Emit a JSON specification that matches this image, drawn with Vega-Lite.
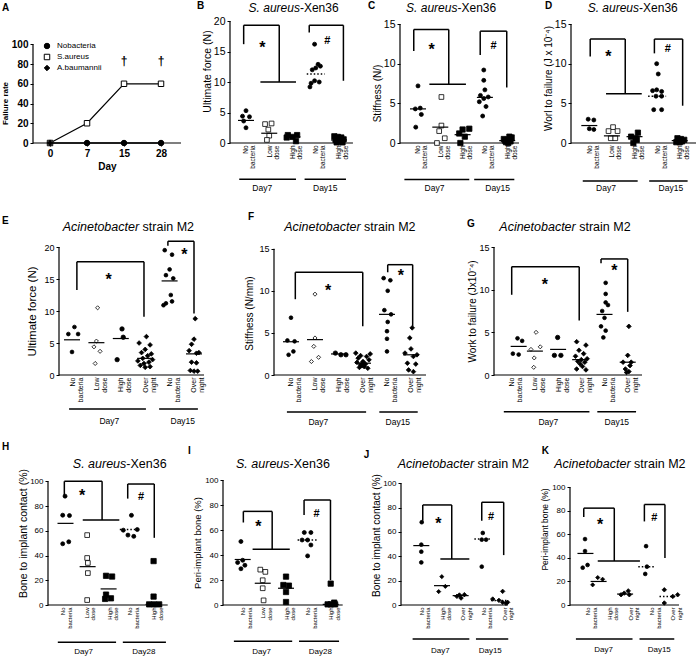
{
"padding":{"left":1,"top":0,"right":0,"bottom":0},
"spacing":18,
"resolve":{"scale":{"shape":"independent","fill":"independent","size":"independent","stroke":"independent"},"legend":{"shape":"independent","fill":"independent","stroke":"independent"}},
"config":{"font":"Liberation Sans","view":{"stroke":null},"mark":{"color":"black"},
"legend":{"labelColor":"black","labelFont":"Liberation Sans"},
"axis":{"domainColor":"black","tickColor":"black","labelColor":"black","titleColor":"black","grid":false,"domain":false,"tickWidth":1,"titleFontWeight":"normal","labelFont":"Liberation Sans","titleFont":"Liberation Sans"},
"axisX":{"labelAngle":-90,"labelAlign":"right","labelBaseline":"middle","ticks":false,"labelPadding":2,"labelOverlap":false,"labelFlush":false,"labelFontSize":6.5,"labelLineHeight":7,"title":null},
"axisY":{"tickSize":3,"labelPadding":2,"titlePadding":2,"labelFlush":false,"labelOverlap":false}},
"vconcat":[
{"hconcat":[
  {"width":187,"height":122,
   "data":{"values":[{"s":"Nobacteria","x":1,"y":0},{"s":"Nobacteria","x":2,"y":0},{"s":"Nobacteria","x":3,"y":0},{"s":"Nobacteria","x":4,"y":0},{"s":"S.aureus","x":1,"y":0},{"s":"S.aureus","x":2,"y":20},{"s":"S.aureus","x":3,"y":60},{"s":"S.aureus","x":4,"y":60},{"s":"A.baumannii","x":1,"y":0},{"s":"A.baumannii","x":2,"y":0},{"s":"A.baumannii","x":3,"y":0},{"s":"A.baumannii","x":4,"y":0}]},
   "encoding":{
    "x":{"field":"x","type":"quantitative","scale":{"domain":[0.54,5.594],"nice":false,"zero":false},"axis":{"values":[1,2,3,4],"labelExpr":"datum.value == 1 ? '0' : datum.value == 2 ? '7' : datum.value == 3 ? '15' : '28'","labelAngle":0,"labelAlign":"center","labelBaseline":"top","ticks":true,"tickSize":3,"labelPadding":2,"labelFontSize":10,"labelFontWeight":"bold","title":"Day","titleFontSize":10,"titleFontWeight":"bold","titlePadding":3,"titleX":74}},
    "y":{"field":"y","type":"quantitative","scale":{"domain":[0,123.6],"nice":false},"axis":{"values":[0,20,40,60,80,100],"labelFontSize":10,"labelFontWeight":"bold","title":"Failure rate","titleFontSize":8,"titleFontWeight":"bold","titlePadding":2,"titleY":82}}},
   "layer":[
    {"data":{"values":[{"x":0.54,"x2":0.54,"y":0,"y2":100},{"x":0.54,"x2":4.54,"y":0,"y2":0}]},"mark":{"type":"rule","strokeWidth":1.2},"encoding":{"x2":{"field":"x2"},"y2":{"field":"y2"}}},
    {"mark":{"type":"line","color":"black","strokeWidth":1.2},"encoding":{"detail":{"field":"s","type":"nominal"}}},
    {"mark":{"type":"point","strokeWidth":1,"opacity":1,"size":30},"encoding":{
      "shape":{"field":"s","type":"nominal","title":"\u00a0","scale":{"domain":["Nobacteria","S.aureus","A.baumannii"],"range":["circle","square","diamond"]},"legend":{"orient":"top-left","offset":10,"title":"\u00a0","titleFontSize":8,"titlePadding":3,"labelFontSize":8,"symbolStrokeWidth":1,"symbolSize":30,"rowPadding":1,"labelOffset":6}},
      "fill":{"field":"s","type":"nominal","title":"\u00a0","scale":{"domain":["Nobacteria","S.aureus","A.baumannii"],"range":["black","white","black"]},"legend":{"orient":"top-left","offset":10,"title":"\u00a0","titleFontSize":8,"titlePadding":3,"labelFontSize":8,"symbolStrokeWidth":1,"symbolSize":30,"rowPadding":1,"labelOffset":6}},
      "stroke":{"field":"s","type":"nominal","title":"\u00a0","scale":{"domain":["Nobacteria","S.aureus","A.baumannii"],"range":["black","black","black"]},"legend":{"orient":"top-left","offset":10,"title":"\u00a0","titleFontSize":8,"titlePadding":3,"labelFontSize":8,"symbolStrokeWidth":1,"symbolSize":30,"rowPadding":1,"labelOffset":6}}}},
    {"data":{"values":[{"x":3,"y":83},{"x":4,"y":83}]},"mark":{"type":"text","fontSize":12,"fontWeight":"bold","fill":"black"},"encoding":{"text":{"value":"†"}}},
    {"data":{"values":[{"x":-0.297,"y":137.1,"t":"A"}]},"mark":{"type":"text","fontSize":10,"fontWeight":"bold","align":"left"},"encoding":{"text":{"field":"t"}}}
   ]},
 {"width":160,"height":122,
  "encoding":{
   "x":{"field":"x","type":"quantitative","scale":{"domain":[0.312,7.194],"nice":false,"zero":false},"axis":{"values":[1,2,3,4,5],"labelExpr":"datum.value < 1.5 ? ['No','bacteria'] : datum.value < 2.5 ? ['Low','dose'] : datum.value < 3.5 ? ['High','dose'] : datum.value < 4.5 ? ['No','bacteria'] : ['High','dose']"}},
   "y":{"field":"y","type":"quantitative","scale":{"domain":[0,20],"nice":false},"axis":{"values":[0,5,10,15,20],"labelFontSize":10.5,"title":"Ultimate force (N)","titleFontSize":10.5,"titlePadding":1,"titleY":50}}},
  "layer":[
   {"data":{"values":[{"x":0.312,"x2":0.312,"y":0,"y2":20},{"x":0.312,"x2":5.6,"y":0,"y2":0}]},"mark":{"type":"rule","strokeWidth":1.2},"encoding":{"x2":{"field":"x2"},"y2":{"field":"y2"}}},
   {"data":{"values":[{"g":"No bacteria","x":1.0,"y":5.3},{"g":"No bacteria","x":0.85,"y":4.4},{"g":"No bacteria","x":1.15,"y":4.3},{"g":"No bacteria","x":0.9,"y":3.6},{"g":"No bacteria","x":1.0,"y":2.5},
     {"g":"Low dose","x":1.82,"y":3.1},{"g":"Low dose","x":2.1,"y":3.2},{"g":"Low dose","x":1.96,"y":2.2},{"g":"Low dose","x":2.0,"y":1.2},{"g":"Low dose","x":1.9,"y":0.5},
     {"g":"High dose","x":2.8,"y":1.3},{"g":"High dose","x":3.2,"y":1.3},{"g":"High dose","x":3.0,"y":1.0},{"g":"High dose","x":2.75,"y":0.9},{"g":"High dose","x":3.15,"y":0.3},
     {"g":"No bacteria","x":3.95,"y":16.2},{"g":"No bacteria","x":4.1,"y":12.9},{"g":"No bacteria","x":4.2,"y":12.6},{"g":"No bacteria","x":4.0,"y":12.3},{"g":"No bacteria","x":3.85,"y":12.0},{"g":"No bacteria","x":3.95,"y":10.2},{"g":"No bacteria","x":4.15,"y":10.0},{"g":"No bacteria","x":3.8,"y":9.8},{"g":"No bacteria","x":3.75,"y":9.2},
     {"g":"High dose","x":4.8,"y":1.1},{"g":"High dose","x":4.95,"y":1.0},{"g":"High dose","x":5.1,"y":0.9},{"g":"High dose","x":5.2,"y":0.6},{"g":"High dose","x":4.85,"y":0.5},{"g":"High dose","x":5.05,"y":0.3},{"g":"High dose","x":4.9,"y":0.1},{"g":"High dose","x":5.15,"y":0.1}]},
    "mark":{"type":"point","stroke":"black","strokeWidth":0.8,"opacity":1},
    "encoding":{"shape":{"field":"g","type":"nominal","scale":{"domain":["No bacteria","Low dose","High dose"],"range":["circle","square","square"]},"legend":null},
     "fill":{"field":"g","type":"nominal","scale":{"domain":["No bacteria","Low dose","High dose"],"range":["black","white","black"]},"legend":null},
     "size":{"field":"g","type":"ordinal","scale":{"domain":["No bacteria","Low dose","High dose"],"range":[16,28,28]},"legend":null}}},
   {"data":{"values":[{"x":1,"y":3.7},{"x":2,"y":1.6},{"x":3,"y":1.0},{"x":5,"y":0.5}]},"mark":{"type":"rule","xOffset":-8,"x2Offset":8,"strokeWidth":1.2},"encoding":{"x2":{"field":"x"}}},
   {"data":{"values":[{"x":4,"y":11.3}]},"mark":{"type":"rule","xOffset":-9,"x2Offset":9,"strokeWidth":1.5,"strokeDash":[1.5,2]},"encoding":{"x2":{"field":"x"}}},
   {"data":{"values":[{"x":0.9,"x2":2.43,"y":19.3,"y2":19.3},{"x":0.9,"x2":0.9,"y":19.3,"y2":16.2},{"x":2.43,"x2":2.43,"y":19.3,"y2":10.0},{"x":1.62,"x2":3.15,"y":10,"y2":10},{"x":3.72,"x2":5.19,"y":19.3,"y2":19.3},{"x":3.72,"x2":3.72,"y":19.3,"y2":18.1},{"x":5.19,"x2":5.19,"y":19.3,"y2":10.2},{"x":0.71,"x2":3.15,"y":-5.95,"y2":-5.95},{"x":3.52,"x2":5.3,"y":-5.95,"y2":-5.95}]},"mark":{"type":"rule","strokeWidth":1.5},"encoding":{"x2":{"field":"x2"},"y2":{"field":"y2"}}},
   {"data":{"values":[{"x":1.7,"y":16.2}]},"mark":{"type":"text","fontSize":16,"fontWeight":"bold","dy":4},"encoding":{"text":{"value":"*"}}},
   {"data":{"values":[{"x":4.5,"y":16.7}]},"mark":{"type":"text","fontSize":11,"fontWeight":"bold"},"encoding":{"text":{"value":"#"}}},
   {"data":{"values":[{"x":1.7,"y":-7.4,"t":"Day7"},{"x":4.41,"y":-7.4,"t":"Day15"}]},"mark":{"type":"text","fontSize":8.5},"encoding":{"text":{"field":"t"}}},
   {"data":{"values":[{"x":3.32,"y":21.5,"a":"S. aureus","b":"-Xen36"}]},"mark":{"type":"text","fontSize":12,"fontStyle":"italic","align":"right","baseline":"alphabetic"},"encoding":{"text":{"field":"a"}}},
   {"data":{"values":[{"x":3.32,"y":21.5,"a":"S. aureus","b":"-Xen36"}]},"mark":{"type":"text","fontSize":12,"align":"left","baseline":"alphabetic"},"encoding":{"text":{"field":"b"}}},
   {"data":{"values":[{"x":-1.11,"y":22.46,"t":"B"}]},"mark":{"type":"text","fontSize":10,"fontWeight":"bold","align":"left"},"encoding":{"text":{"field":"t"}}}
  ]},
  {"width":161,"height":122,
  "encoding":{
   "x":{"field":"x","type":"quantitative","scale":{"domain":[0.193,7.413],"nice":false,"zero":false},"axis":{"values":[1,2,3,4,5],"labelExpr":"datum.value < 1.5 ? ['No','bacteria'] : datum.value < 2.5 ? ['Low','dose'] : datum.value < 3.5 ? ['High','dose'] : datum.value < 4.5 ? ['No','bacteria'] : ['High','dose']"}},
   "y":{"field":"y","type":"quantitative","scale":{"domain":[0,15.38],"nice":false},"axis":{"values":[0,5,10,15],"labelFontSize":10.5,"title":"Stiffness (N/)","titleFontSize":10,"titlePadding":1,"titleY":72}}},
  "layer":[
   {"data":{"values":[{"x":0.193,"x2":0.193,"y":0,"y2":15},{"x":0.193,"x2":5.53,"y":0,"y2":0}]},"mark":{"type":"rule","strokeWidth":1.2},"encoding":{"x2":{"field":"x2"},"y2":{"field":"y2"}}},
   {"data":{"values":[{"g":"No bacteria","x":1.0,"y":7.2},{"g":"No bacteria","x":1.1,"y":4.4},{"g":"No bacteria","x":0.88,"y":4.3},{"g":"No bacteria","x":1.15,"y":3.6},{"g":"No bacteria","x":0.9,"y":2.0},
     {"g":"Low dose","x":2.05,"y":5.8},{"g":"Low dose","x":2.05,"y":2.2},{"g":"Low dose","x":1.95,"y":1.5},{"g":"Low dose","x":2.2,"y":0.6},{"g":"Low dose","x":1.85,"y":0.0},
     {"g":"High dose","x":3.0,"y":1.7},{"g":"High dose","x":3.3,"y":1.8},{"g":"High dose","x":2.85,"y":1.2},{"g":"High dose","x":3.1,"y":0.8},{"g":"High dose","x":2.9,"y":0.0},
     {"g":"No bacteria","x":3.95,"y":9.2},{"g":"No bacteria","x":3.95,"y":7.9},{"g":"No bacteria","x":4.0,"y":6.7},{"g":"No bacteria","x":3.8,"y":6.0},{"g":"No bacteria","x":4.15,"y":5.8},{"g":"No bacteria","x":3.95,"y":5.6},{"g":"No bacteria","x":3.75,"y":5.2},{"g":"No bacteria","x":4.05,"y":4.6},{"g":"No bacteria","x":3.9,"y":3.4},
     {"g":"High dose","x":5.1,"y":0.8},{"g":"High dose","x":5.2,"y":0.7},{"g":"High dose","x":4.85,"y":0.5},{"g":"High dose","x":5.0,"y":0.4},{"g":"High dose","x":4.9,"y":0.3},{"g":"High dose","x":5.15,"y":0.2},{"g":"High dose","x":4.95,"y":0.1},{"g":"High dose","x":5.05,"y":0.0}]},
    "mark":{"type":"point","stroke":"black","strokeWidth":0.8,"opacity":1},
    "encoding":{"shape":{"field":"g","type":"nominal","scale":{"domain":["No bacteria","Low dose","High dose"],"range":["circle","square","square"]},"legend":null},
     "fill":{"field":"g","type":"nominal","scale":{"domain":["No bacteria","Low dose","High dose"],"range":["black","white","black"]},"legend":null},
     "size":{"field":"g","type":"ordinal","scale":{"domain":["No bacteria","Low dose","High dose"],"range":[16,28,28]},"legend":null}}},
   {"data":{"values":[{"x":1,"y":4.3},{"x":2,"y":2.0},{"x":3,"y":1.05},{"x":4,"y":5.75},{"x":5,"y":0.3}]},"mark":{"type":"rule","xOffset":-8,"x2Offset":8,"strokeWidth":1.2},"encoding":{"x2":{"field":"x"}}},
   {"data":{"values":[{"x":0.81,"x2":2.38,"y":14.3,"y2":14.3},{"x":0.81,"x2":0.81,"y":14.3,"y2":11.6},{"x":2.38,"x2":2.38,"y":14.3,"y2":7.4},{"x":1.51,"x2":3.15,"y":7.4,"y2":7.4},{"x":3.79,"x2":4.98,"y":14.1,"y2":14.1},{"x":3.79,"x2":3.79,"y":14.1,"y2":11.1},{"x":4.98,"x2":4.98,"y":14.1,"y2":7.0},{"x":0.39,"x2":3.3,"y":-4.6,"y2":-4.6},{"x":3.52,"x2":5.32,"y":-4.6,"y2":-4.6}]},"mark":{"type":"rule","strokeWidth":1.5},"encoding":{"x2":{"field":"x2"},"y2":{"field":"y2"}}},
   {"data":{"values":[{"x":1.61,"y":12.2}]},"mark":{"type":"text","fontSize":16,"fontWeight":"bold","dy":4},"encoding":{"text":{"value":"*"}}},
   {"data":{"values":[{"x":4.39,"y":12.2}]},"mark":{"type":"text","fontSize":11,"fontWeight":"bold"},"encoding":{"text":{"value":"#"}}},
   {"data":{"values":[{"x":1.74,"y":-5.7,"t":"Day7"},{"x":4.57,"y":-5.7,"t":"Day15"}]},"mark":{"type":"text","fontSize":8.5},"encoding":{"text":{"field":"t"}}},
   {"data":{"values":[{"x":2.77,"y":16.5,"a":"S. aureus","b":"-Xen36"}]},"mark":{"type":"text","fontSize":12,"fontStyle":"italic","align":"right","baseline":"alphabetic"},"encoding":{"text":{"field":"a"}}},
   {"data":{"values":[{"x":2.77,"y":16.5,"a":"S. aureus","b":"-Xen36"}]},"mark":{"type":"text","fontSize":12,"align":"left","baseline":"alphabetic"},"encoding":{"text":{"field":"b"}}},
   {"data":{"values":[{"x":-1.24,"y":17.28,"t":"C"}]},"mark":{"type":"text","fontSize":10,"fontWeight":"bold","align":"left"},"encoding":{"text":{"field":"t"}}}
  ]},
  {"width":126,"height":122,
  "encoding":{
   "x":{"field":"x","type":"quantitative","scale":{"domain":[0.19,5.765],"nice":false,"zero":false},"axis":{"values":[1,2,3,4,5],"labelExpr":"datum.value < 1.5 ? ['No','bacteria'] : datum.value < 2.5 ? ['Low','dose'] : datum.value < 3.5 ? ['High','dose'] : datum.value < 4.5 ? ['No','bacteria'] : ['High','dose']"}},
   "y":{"field":"y","type":"quantitative","scale":{"domain":[0,15.38],"nice":false},"axis":{"values":[0,5,10,15],"labelFontSize":10.5,"title":"Worl to failure (J x 10⁻⁴)","titleFontSize":10,"titlePadding":1,"titleY":57}}},
  "layer":[
   {"data":{"values":[{"x":0.19,"x2":0.19,"y":0,"y2":15},{"x":0.19,"x2":5.765,"y":0,"y2":0}]},"mark":{"type":"rule","strokeWidth":1.2},"encoding":{"x2":{"field":"x2"},"y2":{"field":"y2"}}},
   {"data":{"values":[{"g":"No bacteria","x":0.95,"y":3.0},{"g":"No bacteria","x":1.2,"y":2.9},{"g":"No bacteria","x":1.0,"y":1.8},{"g":"No bacteria","x":1.2,"y":1.7},
     {"g":"Low dose","x":2.05,"y":2.0},{"g":"Low dose","x":1.85,"y":1.5},{"g":"Low dose","x":2.25,"y":1.5},{"g":"Low dose","x":1.95,"y":0.6},{"g":"Low dose","x":2.15,"y":0.6},
     {"g":"High dose","x":3.15,"y":1.3},{"g":"High dose","x":2.85,"y":0.8},{"g":"High dose","x":3.05,"y":0.6},{"g":"High dose","x":3.1,"y":0.4},{"g":"High dose","x":2.95,"y":0.0},
     {"g":"No bacteria","x":3.98,"y":10.0},{"g":"No bacteria","x":4.05,"y":8.7},{"g":"No bacteria","x":3.98,"y":6.7},{"g":"No bacteria","x":3.8,"y":6.6},{"g":"No bacteria","x":4.2,"y":6.5},{"g":"No bacteria","x":3.95,"y":5.9},{"g":"No bacteria","x":4.2,"y":5.9},{"g":"No bacteria","x":3.85,"y":4.2},{"g":"No bacteria","x":4.2,"y":4.2},
     {"g":"High dose","x":4.9,"y":0.6},{"g":"High dose","x":5.05,"y":0.5},{"g":"High dose","x":5.2,"y":0.4},{"g":"High dose","x":4.95,"y":0.3},{"g":"High dose","x":5.1,"y":0.2},{"g":"High dose","x":5.0,"y":0.1},{"g":"High dose","x":4.85,"y":0.1}]},
    "mark":{"type":"point","stroke":"black","strokeWidth":0.8,"opacity":1},
    "encoding":{"shape":{"field":"g","type":"nominal","scale":{"domain":["No bacteria","Low dose","High dose"],"range":["circle","square","square"]},"legend":null},
     "fill":{"field":"g","type":"nominal","scale":{"domain":["No bacteria","Low dose","High dose"],"range":["black","white","black"]},"legend":null},
     "size":{"field":"g","type":"ordinal","scale":{"domain":["No bacteria","Low dose","High dose"],"range":[16,28,28]},"legend":null}}},
   {"data":{"values":[{"x":1,"y":2.2},{"x":2,"y":0.9},{"x":3,"y":0.8},{"x":5,"y":0.3}]},"mark":{"type":"rule","xOffset":-8,"x2Offset":8,"strokeWidth":1.2},"encoding":{"x2":{"field":"x"}}},
   {"data":{"values":[{"x":4,"y":5.9}]},"mark":{"type":"rule","xOffset":-9,"x2Offset":9,"strokeWidth":1.5,"strokeDash":[1.5,2]},"encoding":{"x2":{"field":"x"}}},
   {"data":{"values":[{"x":1.04,"x2":2.59,"y":13.1,"y2":13.1},{"x":1.04,"x2":1.04,"y":13.1,"y2":10.9},{"x":2.59,"x2":2.59,"y":13.1,"y2":6.2},{"x":1.74,"x2":3.32,"y":6.2,"y2":6.2},{"x":3.88,"x2":5.13,"y":13.1,"y2":13.1},{"x":3.88,"x2":3.88,"y":13.1,"y2":11.3},{"x":5.13,"x2":5.13,"y":13.1,"y2":4.7},{"x":0.71,"x2":3.14,"y":-4.8,"y2":-4.8},{"x":3.65,"x2":5.35,"y":-4.8,"y2":-4.8}]},"mark":{"type":"rule","strokeWidth":1.5},"encoding":{"x2":{"field":"x2"},"y2":{"field":"y2"}}},
   {"data":{"values":[{"x":1.84,"y":11.3}]},"mark":{"type":"text","fontSize":16,"fontWeight":"bold","dy":4},"encoding":{"text":{"value":"*"}}},
   {"data":{"values":[{"x":4.47,"y":11.8}]},"mark":{"type":"text","fontSize":11,"fontWeight":"bold"},"encoding":{"text":{"value":"#"}}},
   {"data":{"values":[{"x":1.74,"y":-5.7,"t":"Day7"},{"x":4.61,"y":-5.7,"t":"Day15"}]},"mark":{"type":"text","fontSize":8.5},"encoding":{"text":{"field":"t"}}},
   {"data":{"values":[{"x":3.2,"y":16.5,"a":"S. aureus","b":"-Xen36"}]},"mark":{"type":"text","fontSize":12,"fontStyle":"italic","align":"right","baseline":"alphabetic"},"encoding":{"text":{"field":"a"}}},
   {"data":{"values":[{"x":3.2,"y":16.5,"a":"S. aureus","b":"-Xen36"}]},"mark":{"type":"text","fontSize":12,"align":"left","baseline":"alphabetic"},"encoding":{"text":{"field":"b"}}},
   {"data":{"values":[{"x":-0.96,"y":17.28,"t":"D"}]},"mark":{"type":"text","fontSize":10,"fontWeight":"bold","align":"left"},"encoding":{"text":{"field":"t"}}}
  ]}
],"spacing":10,"bounds":"flush","resolve":{"scale":{"shape":"independent","fill":"independent","size":"independent","stroke":"independent"},"legend":{"shape":"independent","fill":"independent","stroke":"independent"}}},
{"vconcat":[
 {"hconcat":[{"width":16,"height":1,"data":{"values":[]},"mark":"point"},
   {"width":205,"height":128,
    "encoding":{
     "x":{"field":"x","type":"quantitative","scale":{"domain":[0.467,8.869],"nice":false,"zero":false},"axis":{"values":[1,2,3,4,5,6],"labelFontSize":7,"labelLineHeight":8,"labelExpr":"datum.value < 1.5 ? ['No','bacteria'] : datum.value < 2.5 ? ['Low','dose'] : datum.value < 3.5 ? ['High','dose'] : datum.value < 4.5 ? ['Over','night'] : datum.value < 5.5 ? ['No','bacteria'] : ['Over','night']"}},
     "y":{"field":"y","type":"quantitative","scale":{"domain":[0,20],"nice":false},"axis":{"values":[0,5,10,15,20],"labelFontSize":9,"title":"Ultimate force (N)","titleFontSize":11.5,"titlePadding":6}}},
    "layer":[
     {"data":{"values":[{"x":0.467,"x2":0.467,"y":0,"y2":20},{"x":0.467,"x2":6.41,"y":0,"y2":0}]},"mark":{"type":"rule","strokeWidth":1.2},"encoding":{"x2":{"field":"x2"},"y2":{"field":"y2"}}},
     {"data":{"values":[{"g":"No bacteria","x":1.1,"y":7.5},{"g":"No bacteria","x":0.85,"y":6.4},{"g":"No bacteria","x":1.25,"y":6.4},{"g":"No bacteria","x":1.0,"y":3.6},
       {"g":"Low dose","x":2.05,"y":10.5},{"g":"Low dose","x":2.0,"y":5.3},{"g":"Low dose","x":1.9,"y":4.4},{"g":"Low dose","x":2.15,"y":3.7},{"g":"Low dose","x":1.95,"y":1.8},
       {"g":"High dose","x":3.05,"y":7.2},{"g":"High dose","x":3.1,"y":5.9},{"g":"High dose","x":2.85,"y":2.4},
       {"g":"Over night","x":4.05,"y":6.0},{"g":"Over night","x":3.75,"y":5.0},{"g":"Over night","x":4.2,"y":4.7},{"g":"Over night","x":4.0,"y":4.0},{"g":"Over night","x":3.85,"y":3.5},{"g":"Over night","x":4.25,"y":3.3},{"g":"Over night","x":4.1,"y":3.0},{"g":"Over night","x":3.9,"y":2.6},{"g":"Over night","x":4.3,"y":2.4},{"g":"Over night","x":3.7,"y":2.2},{"g":"Over night","x":4.15,"y":2.0},{"g":"Over night","x":3.95,"y":1.8},{"g":"Over night","x":3.8,"y":1.5},{"g":"Over night","x":4.2,"y":1.3},{"g":"Over night","x":4.0,"y":1.2},
       {"g":"No bacteria","x":4.8,"y":19.5},{"g":"No bacteria","x":5.1,"y":18.8},{"g":"No bacteria","x":5.0,"y":16.5},{"g":"No bacteria","x":4.85,"y":15.6},{"g":"No bacteria","x":5.15,"y":15.1},{"g":"No bacteria","x":5.05,"y":12.5},{"g":"No bacteria","x":5.1,"y":11.5},{"g":"No bacteria","x":4.85,"y":11.2},{"g":"No bacteria","x":4.75,"y":10.9},
       {"g":"Over night","x":6.05,"y":8.8},{"g":"Over night","x":6.0,"y":5.6},{"g":"Over night","x":5.9,"y":4.8},{"g":"Over night","x":5.8,"y":3.8},{"g":"Over night","x":6.2,"y":3.5},{"g":"Over night","x":6.1,"y":3.4},{"g":"Over night","x":5.9,"y":2.0},{"g":"Over night","x":6.1,"y":1.9},{"g":"Over night","x":5.85,"y":0.7},{"g":"Over night","x":6.15,"y":0.6},{"g":"Over night","x":6.0,"y":0.6}]},
      "mark":{"type":"point","stroke":"black","strokeWidth":0.8,"opacity":1},
      "encoding":{"shape":{"field":"g","type":"nominal","scale":{"domain":["No bacteria","Low dose","High dose","Over night"],"range":["circle","diamond","circle","diamond"]},"legend":null},
       "fill":{"field":"g","type":"nominal","scale":{"domain":["No bacteria","Low dose","High dose","Over night"],"range":["black","white","black","black"]},"legend":null},
       "size":{"field":"g","type":"ordinal","scale":{"domain":["No bacteria","Low dose","High dose","Over night"],"range":[14,22,14,20]},"legend":null}}},
     {"data":{"values":[{"x":1,"y":5.5},{"x":2,"y":5.05},{"x":3,"y":5.7},{"x":4,"y":2.6},{"x":5,"y":14.7},{"x":6,"y":3.3}]},"mark":{"type":"rule","xOffset":-8,"x2Offset":8,"strokeWidth":1.2},"encoding":{"x2":{"field":"x"}}},
     {"data":{"values":[{"x":1.2,"x2":3.95,"y":17.7,"y2":17.7},{"x":1.2,"x2":1.2,"y":17.7,"y2":13.3},{"x":3.95,"x2":3.95,"y":17.7,"y2":9.1},{"x":4.93,"x2":6.0,"y":20.9,"y2":20.9},{"x":4.93,"x2":4.93,"y":20.9,"y2":20.2},{"x":6.0,"x2":6.0,"y":20.9,"y2":9.6},{"x":0.88,"x2":4.03,"y":-5.3,"y2":-5.3},{"x":4.57,"x2":6.16,"y":-5.3,"y2":-5.3}]},"mark":{"type":"rule","strokeWidth":1.5},"encoding":{"x2":{"field":"x2"},"y2":{"field":"y2"}}},
     {"data":{"values":[{"x":2.5,"y":15.4},{"x":5.6,"y":19.4}]},"mark":{"type":"text","fontSize":16,"fontWeight":"bold","dy":4},"encoding":{"text":{"value":"*"}}},
     {"data":{"values":[{"x":2.53,"y":-7.2,"t":"Day7"},{"x":5.54,"y":-7.2,"t":"Day15"}]},"mark":{"type":"text","fontSize":8.5},"encoding":{"text":{"field":"t"}}},
     {"data":{"values":[{"x":3.75,"y":22.5,"a":"Acinetobacter","b":"strain M2"}]},"mark":{"type":"text","fontSize":12.5,"fontStyle":"italic","align":"right","baseline":"alphabetic"},"encoding":{"text":{"field":"a"}}},
     {"data":{"values":[{"x":3.75,"y":22.5,"a":"Acinetobacter","b":"strain M2"}]},"mark":{"type":"text","fontSize":12.5,"align":"left","baseline":"alphabetic","dx":3.5},"encoding":{"text":{"field":"b"}}},
     {"data":{"values":[{"x":-1.869,"y":24.1,"t":"E"}]},"mark":{"type":"text","fontSize":10,"fontWeight":"bold","align":"left"},"encoding":{"text":{"field":"t"}}}
    ]},
   {"width":210,"height":128,
    "encoding":{
     "x":{"field":"x","type":"quantitative","scale":{"domain":[0.292,9.042],"nice":false,"zero":false},"axis":{"values":[1,2,3,4,5,6],"labelFontSize":7,"labelLineHeight":8,"labelExpr":"datum.value < 1.5 ? ['No','bacteria'] : datum.value < 2.5 ? ['Low','dose'] : datum.value < 3.5 ? ['High','dose'] : datum.value < 4.5 ? ['Over','night'] : datum.value < 5.5 ? ['No','bacteria'] : ['Over','night']"}},
     "y":{"field":"y","type":"quantitative","scale":{"domain":[0,15.2],"nice":false},"axis":{"values":[0,5,10,15],"labelFontSize":9,"title":"Stiffness (N/mm)","titleFontSize":10,"titlePadding":4.5,"titleY":66}}},
    "layer":[
     {"data":{"values":[{"x":0.292,"x2":0.292,"y":0,"y2":15},{"x":0.292,"x2":6.625,"y":0,"y2":0}]},"mark":{"type":"rule","strokeWidth":1.2},"encoding":{"x2":{"field":"x2"},"y2":{"field":"y2"}}},
     {"data":{"values":[{"g":"No bacteria","x":1.0,"y":6.8},{"g":"No bacteria","x":0.85,"y":4.1},{"g":"No bacteria","x":1.15,"y":4.0},{"g":"No bacteria","x":1.1,"y":2.8},{"g":"No bacteria","x":0.9,"y":2.4},
       {"g":"Low dose","x":2.0,"y":9.6},{"g":"Low dose","x":2.0,"y":4.4},{"g":"Low dose","x":1.95,"y":3.4},{"g":"Low dose","x":2.15,"y":2.1},{"g":"Low dose","x":1.85,"y":1.6},
       {"g":"High dose","x":2.85,"y":2.6},{"g":"High dose","x":3.08,"y":2.4},{"g":"High dose","x":3.29,"y":2.4},
       {"g":"Over night","x":3.7,"y":2.6},{"g":"Over night","x":4.3,"y":2.5},{"g":"Over night","x":3.9,"y":2.3},{"g":"Over night","x":4.15,"y":2.2},{"g":"Over night","x":3.8,"y":2.0},{"g":"Over night","x":4.25,"y":1.8},{"g":"Over night","x":4.0,"y":1.6},{"g":"Over night","x":3.75,"y":1.5},{"g":"Over night","x":4.1,"y":1.3},{"g":"Over night","x":3.9,"y":1.2},{"g":"Over night","x":4.05,"y":1.0},{"g":"Over night","x":3.85,"y":0.9},{"g":"Over night","x":4.2,"y":0.8},{"g":"Over night","x":3.95,"y":1.1},{"g":"Over night","x":4.0,"y":1.4},
       {"g":"No bacteria","x":4.86,"y":11.5},{"g":"No bacteria","x":5.14,"y":11.25},{"g":"No bacteria","x":5.03,"y":10.0},{"g":"No bacteria","x":4.89,"y":7.7},{"g":"No bacteria","x":5.17,"y":7.2},{"g":"No bacteria","x":5.03,"y":6.3},{"g":"No bacteria","x":5.0,"y":5.2},{"g":"No bacteria","x":5.0,"y":4.3},{"g":"No bacteria","x":5.0,"y":2.8},
       {"g":"Over night","x":6.05,"y":5.6},{"g":"Over night","x":5.95,"y":4.4},{"g":"Over night","x":6.0,"y":3.1},{"g":"Over night","x":5.75,"y":2.6},{"g":"Over night","x":6.25,"y":2.4},{"g":"Over night","x":6.1,"y":2.2},{"g":"Over night","x":5.85,"y":1.4},{"g":"Over night","x":6.2,"y":1.3},{"g":"Over night","x":5.9,"y":0.6},{"g":"Over night","x":6.1,"y":0.4}]},
      "mark":{"type":"point","stroke":"black","strokeWidth":0.8,"opacity":1},
      "encoding":{"shape":{"field":"g","type":"nominal","scale":{"domain":["No bacteria","Low dose","High dose","Over night"],"range":["circle","diamond","circle","diamond"]},"legend":null},
       "fill":{"field":"g","type":"nominal","scale":{"domain":["No bacteria","Low dose","High dose","Over night"],"range":["black","white","black","black"]},"legend":null},
       "size":{"field":"g","type":"ordinal","scale":{"domain":["No bacteria","Low dose","High dose","Over night"],"range":[14,22,14,20]},"legend":null}}},
     {"data":{"values":[{"x":1,"y":3.95},{"x":2,"y":4.2},{"x":3,"y":2.5},{"x":4,"y":1.4},{"x":5,"y":7.2},{"x":6,"y":2.4}]},"mark":{"type":"rule","xOffset":-8,"x2Offset":8,"strokeWidth":1.2},"encoding":{"x2":{"field":"x"}}},
     {"data":{"values":[{"x":1.18,"x2":3.99,"y":12.2,"y2":12.2},{"x":1.18,"x2":1.18,"y":12.2,"y2":9.0},{"x":3.99,"x2":3.99,"y":12.2,"y2":5.8},{"x":5.03,"x2":6.07,"y":13.1,"y2":13.1},{"x":5.03,"x2":5.03,"y":13.1,"y2":12.2},{"x":6.07,"x2":6.07,"y":13.1,"y2":5.8},{"x":0.83,"x2":4.13,"y":-4.4,"y2":-4.4},{"x":4.68,"x2":6.28,"y":-4.4,"y2":-4.4}]},"mark":{"type":"rule","strokeWidth":1.5},"encoding":{"x2":{"field":"x2"},"y2":{"field":"y2"}}},
     {"data":{"values":[{"x":2.55,"y":10.5},{"x":5.58,"y":12.2}]},"mark":{"type":"text","fontSize":16,"fontWeight":"bold","dy":4},"encoding":{"text":{"value":"*"}}},
     {"data":{"values":[{"x":2.14,"y":-5.6,"t":"Day7"},{"x":5.45,"y":-5.6,"t":"Day15"}]},"mark":{"type":"text","fontSize":8.5},"encoding":{"text":{"field":"t"}}},
     {"data":{"values":[{"x":3.9,"y":17.1,"a":"Acinetobacter","b":"strain M2"}]},"mark":{"type":"text","fontSize":12.5,"fontStyle":"italic","align":"right","baseline":"alphabetic"},"encoding":{"text":{"field":"a"}}},
     {"data":{"values":[{"x":3.9,"y":17.1,"a":"Acinetobacter","b":"strain M2"}]},"mark":{"type":"text","fontSize":12.5,"align":"left","baseline":"alphabetic","dx":3.5},"encoding":{"text":{"field":"b"}}},
     {"data":{"values":[{"x":-0.79,"y":18.8,"t":"F"}]},"mark":{"type":"text","fontSize":10,"fontWeight":"bold","align":"left"},"encoding":{"text":{"field":"t"}}}
    ]},
   {"width":148,"height":128,
    "encoding":{
     "x":{"field":"x","type":"quantitative","scale":{"domain":[0.237,6.616],"nice":false,"zero":false},"axis":{"values":[1,2,3,4,5,6],"labelFontSize":7,"labelLineHeight":8,"labelExpr":"datum.value < 1.5 ? ['No','bacteria'] : datum.value < 2.5 ? ['Low','dose'] : datum.value < 3.5 ? ['High','dose'] : datum.value < 4.5 ? ['Over','night'] : datum.value < 5.5 ? ['No','bacteria'] : ['Over','night']"}},
     "y":{"field":"y","type":"quantitative","scale":{"domain":[0,15],"nice":false},"axis":{"values":[0,5,10,15],"labelFontSize":9,"title":"Work to failure (Jx10⁻⁴)","titleFontSize":10,"titlePadding":1}}},
    "layer":[
     {"data":{"values":[{"x":0.237,"x2":0.237,"y":0,"y2":15},{"x":0.237,"x2":6.616,"y":0,"y2":0}]},"mark":{"type":"rule","strokeWidth":1.2},"encoding":{"x2":{"field":"x2"},"y2":{"field":"y2"}}},
     {"data":{"values":[{"g":"No bacteria","x":1.25,"y":4.3},{"g":"No bacteria","x":1.45,"y":4.0},{"g":"No bacteria","x":1.05,"y":2.5},{"g":"No bacteria","x":1.3,"y":2.4},
       {"g":"Low dose","x":2.05,"y":5.0},{"g":"Low dose","x":2.23,"y":3.3},{"g":"Low dose","x":1.83,"y":3.0},{"g":"Low dose","x":1.97,"y":2.0},{"g":"Low dose","x":1.95,"y":0.9},
       {"g":"High dose","x":2.98,"y":4.4},{"g":"High dose","x":2.84,"y":2.3},{"g":"High dose","x":3.12,"y":2.3},
       {"g":"Over night","x":3.8,"y":3.9},{"g":"Over night","x":4.2,"y":3.5},{"g":"Over night","x":3.9,"y":2.9},{"g":"Over night","x":4.1,"y":2.5},{"g":"Over night","x":3.75,"y":2.2},{"g":"Over night","x":4.25,"y":1.9},{"g":"Over night","x":4.0,"y":1.8},{"g":"Over night","x":3.85,"y":1.6},{"g":"Over night","x":4.15,"y":1.5},{"g":"Over night","x":3.95,"y":1.3},{"g":"Over night","x":4.05,"y":1.0},{"g":"Over night","x":3.8,"y":0.7},{"g":"Over night","x":4.2,"y":0.6},
       {"g":"No bacteria","x":5.05,"y":10.8},{"g":"No bacteria","x":5.05,"y":9.5},{"g":"No bacteria","x":5.05,"y":8.5},{"g":"No bacteria","x":5.15,"y":8.2},{"g":"No bacteria","x":4.9,"y":7.5},{"g":"No bacteria","x":5.0,"y":6.7},{"g":"No bacteria","x":4.85,"y":5.7},{"g":"No bacteria","x":5.05,"y":5.2},{"g":"No bacteria","x":4.95,"y":4.4},
       {"g":"Over night","x":6.05,"y":5.7},{"g":"Over night","x":6.0,"y":2.3},{"g":"Over night","x":5.8,"y":1.5},{"g":"Over night","x":6.15,"y":1.5},{"g":"Over night","x":6.1,"y":1.1},{"g":"Over night","x":5.9,"y":0.7},{"g":"Over night","x":6.05,"y":0.4},{"g":"Over night","x":5.95,"y":0.3}]},
      "mark":{"type":"point","stroke":"black","strokeWidth":0.8,"opacity":1},
      "encoding":{"shape":{"field":"g","type":"nominal","scale":{"domain":["No bacteria","Low dose","High dose","Over night"],"range":["circle","diamond","circle","diamond"]},"legend":null},
       "fill":{"field":"g","type":"nominal","scale":{"domain":["No bacteria","Low dose","High dose","Over night"],"range":["black","white","black","black"]},"legend":null},
       "size":{"field":"g","type":"ordinal","scale":{"domain":["No bacteria","Low dose","High dose","Over night"],"range":[14,22,14,20]},"legend":null}}},
     {"data":{"values":[{"x":1.3,"y":3.35},{"x":2,"y":2.8},{"x":3,"y":3.0},{"x":3.95,"y":1.8},{"x":5,"y":7.1},{"x":6,"y":1.5}]},"mark":{"type":"rule","xOffset":-8,"x2Offset":8,"strokeWidth":1.2},"encoding":{"x2":{"field":"x"}}},
     {"data":{"values":[{"x":1.0,"x2":3.91,"y":12.7,"y2":12.7},{"x":1.0,"x2":1.0,"y":12.7,"y2":9.4},{"x":3.91,"x2":3.91,"y":12.7,"y2":6.4},{"x":4.85,"x2":6.0,"y":13.6,"y2":13.6},{"x":4.85,"x2":4.85,"y":13.6,"y2":13.1},{"x":6.0,"x2":6.0,"y":13.6,"y2":7.4},{"x":0.66,"x2":4.35,"y":-4.3,"y2":-4.3},{"x":4.69,"x2":6.36,"y":-4.3,"y2":-4.3}]},"mark":{"type":"rule","strokeWidth":1.5},"encoding":{"x2":{"field":"x2"},"y2":{"field":"y2"}}},
     {"data":{"values":[{"x":2.43,"y":11.0},{"x":5.42,"y":12.7}]},"mark":{"type":"text","fontSize":16,"fontWeight":"bold","dy":4},"encoding":{"text":{"value":"*"}}},
     {"data":{"values":[{"x":2.58,"y":-5.5,"t":"Day7"},{"x":5.53,"y":-5.5,"t":"Day15"}]},"mark":{"type":"text","fontSize":8.5},"encoding":{"text":{"field":"t"}}},
     {"data":{"values":[{"x":3.76,"y":16.9,"a":"Acinetobacter","b":"strain M2"}]},"mark":{"type":"text","fontSize":12.5,"fontStyle":"italic","align":"right","baseline":"alphabetic"},"encoding":{"text":{"field":"a"}}},
     {"data":{"values":[{"x":3.76,"y":16.9,"a":"Acinetobacter","b":"strain M2"}]},"mark":{"type":"text","fontSize":12.5,"align":"left","baseline":"alphabetic","dx":3.5},"encoding":{"text":{"field":"b"}}},
     {"data":{"values":[{"x":-0.93,"y":17.7,"t":"G"}]},"mark":{"type":"text","fontSize":10,"fontWeight":"bold","align":"left"},"encoding":{"text":{"field":"t"}}}
    ]}
 ],"spacing":10,"bounds":"flush","resolve":{"scale":{"shape":"independent","fill":"independent","size":"independent"}}},
 {"hconcat":[{"width":5,"height":1,"data":{"values":[]},"mark":"point"},
     {"width":165,"height":125,
      "encoding":{
       "x":{"field":"x","type":"quantitative","scale":{"domain":[0.369,7.45],"nice":false,"zero":false},"axis":{"values":[1,2,3,3.88,4.9],"labelFontSize":6,"labelLineHeight":6.5,"labelExpr":"datum.value < 1.5 ? ['No','bacteria'] : datum.value < 2.5 ? ['Low','dose'] : datum.value < 3.5 ? ['High','dose'] : datum.value < 4.5 ? ['No','bacteria'] : ['High','dose']"}},
       "y":{"field":"y","type":"quantitative","scale":{"domain":[0,101.05],"nice":false},"axis":{"values":[0,20,40,60,80,100],"labelFontSize":8,"title":"Bone to implant contact (%)","titleFontSize":10.5,"titlePadding":1,"titleY":53}}},
      "layer":[
       {"data":{"values":[{"x":0.369,"x2":0.369,"y":0,"y2":100},{"x":0.369,"x2":5.506,"y":0,"y2":0}]},"mark":{"type":"rule","strokeWidth":1.2},"encoding":{"x2":{"field":"x2"},"y2":{"field":"y2"}}},
       {"data":{"values":[{"g":"No bacteria","x":1.1,"y":88},{"g":"No bacteria","x":1.0,"y":72.6},{"g":"No bacteria","x":1.29,"y":72.3},{"g":"No bacteria","x":1.0,"y":49.5},{"g":"No bacteria","x":1.26,"y":51.1},
         {"g":"Low dose","x":2.05,"y":56.5},{"g":"Low dose","x":2.05,"y":38},{"g":"Low dose","x":2.08,"y":34},{"g":"Low dose","x":2.08,"y":25.8},{"g":"Low dose","x":2.05,"y":4},
         {"g":"High dose","x":2.86,"y":23.6},{"g":"High dose","x":3.12,"y":23},{"g":"High dose","x":2.86,"y":8.4},{"g":"High dose","x":3.07,"y":5.4},{"g":"High dose","x":2.82,"y":4.9},
         {"g":"No bacteria","x":3.95,"y":72.5},{"g":"No bacteria","x":4.2,"y":61},{"g":"No bacteria","x":3.6,"y":60.5},{"g":"No bacteria","x":3.8,"y":56.5},{"g":"No bacteria","x":4.05,"y":55.5},
         {"g":"High dose","x":4.9,"y":35.5},{"g":"High dose","x":4.9,"y":6.8},{"g":"High dose","x":4.71,"y":0.5},{"g":"High dose","x":4.92,"y":0.5},{"g":"High dose","x":5.14,"y":0.5}]},
        "mark":{"type":"point","stroke":"black","strokeWidth":0.8,"opacity":1},
        "encoding":{"shape":{"field":"g","type":"nominal","scale":{"domain":["No bacteria","Low dose","High dose"],"range":["circle","square","square"]},"legend":null},
         "fill":{"field":"g","type":"nominal","scale":{"domain":["No bacteria","Low dose","High dose"],"range":["black","white","black"]},"legend":null},
         "size":{"field":"g","type":"ordinal","scale":{"domain":["No bacteria","Low dose","High dose"],"range":[16,28,28]},"legend":null}}},
       {"data":{"values":[{"x":1.12,"y":66},{"x":2.07,"y":31},{"x":2.97,"y":13},{"x":4.9,"y":0.5}]},"mark":{"type":"rule","xOffset":-8,"x2Offset":8,"strokeWidth":1.2},"encoding":{"x2":{"field":"x"}}},
       {"data":{"values":[{"x":3.88,"y":61}]},"mark":{"type":"rule","xOffset":-10,"x2Offset":10,"strokeWidth":1.5,"strokeDash":[1.5,2]},"encoding":{"x2":{"field":"x"}}},
       {"data":{"values":[{"x":1.07,"x2":2.69,"y":100,"y2":100},{"x":1.07,"x2":1.07,"y":100,"y2":88},{"x":2.69,"x2":2.69,"y":100,"y2":68.7},{"x":1.86,"x2":3.43,"y":68.7,"y2":68.7},{"x":3.79,"x2":4.93,"y":97.8,"y2":97.8},{"x":3.79,"x2":3.79,"y":97.8,"y2":86},{"x":4.93,"x2":4.93,"y":97.8,"y2":54.3},{"x":0.79,"x2":3.29,"y":-30.2,"y2":-30.2},{"x":3.58,"x2":5.43,"y":-30.2,"y2":-30.2}]},"mark":{"type":"rule","strokeWidth":1.5},"encoding":{"x2":{"field":"x2"},"y2":{"field":"y2"}}},
       {"data":{"values":[{"x":1.83,"y":91}]},"mark":{"type":"text","fontSize":16,"fontWeight":"bold","dy":4},"encoding":{"text":{"value":"*"}}},
       {"data":{"values":[{"x":4.36,"y":87}]},"mark":{"type":"text","fontSize":11,"fontWeight":"bold"},"encoding":{"text":{"value":"#"}}},
       {"data":{"values":[{"x":1.9,"y":-38.2,"t":"Day7"},{"x":4.48,"y":-38.2,"t":"Day28"}]},"mark":{"type":"text","fontSize":8},"encoding":{"text":{"field":"t"}}},
       {"data":{"values":[{"x":3.73,"y":110.5,"a":"S. aureus","b":"-Xen36"}]},"mark":{"type":"text","fontSize":12.5,"fontStyle":"italic","align":"right","baseline":"alphabetic"},"encoding":{"text":{"field":"a"}}},
       {"data":{"values":[{"x":3.73,"y":110.5,"a":"S. aureus","b":"-Xen36"}]},"mark":{"type":"text","fontSize":12.5,"align":"left","baseline":"alphabetic"},"encoding":{"text":{"field":"b"}}},
       {"data":{"values":[{"x":-1.605,"y":127.5,"t":"H"}]},"mark":{"type":"text","fontSize":10,"fontWeight":"bold","align":"left"},"encoding":{"text":{"field":"t"}}}
      ]},
    {"width":168,"height":125,
     "encoding":{
      "x":{"field":"x","type":"quantitative","scale":{"domain":[0.105,7.741],"nice":false,"zero":false},"axis":{"values":[1,1.91,2.97,3.95,5],"labelFontSize":6,"labelLineHeight":6.5,"labelExpr":"datum.value < 1.5 ? ['No','bacteria'] : datum.value < 2.5 ? ['Low','dose'] : datum.value < 3.5 ? ['High','dose'] : datum.value < 4.5 ? ['No','bacteria'] : ['High','dose']"}},
      "y":{"field":"y","type":"quantitative","scale":{"domain":[0,100],"nice":false},"axis":{"values":[0,20,40,60,80,100],"labelFontSize":8,"title":"Peri-implant bone (%)","titleFontSize":9.5,"titlePadding":2}}},
     "layer":[
      {"data":{"values":[{"x":0.105,"x2":0.105,"y":0,"y2":100},{"x":0.105,"x2":5.545,"y":0,"y2":0}]},"mark":{"type":"rule","strokeWidth":1.2},"encoding":{"x2":{"field":"x2"},"y2":{"field":"y2"}}},
      {"data":{"values":[{"g":"No bacteria","x":0.92,"y":50.8},{"g":"No bacteria","x":1.0,"y":35.8},{"g":"No bacteria","x":0.77,"y":34},{"g":"No bacteria","x":1.1,"y":31.8},{"g":"No bacteria","x":0.92,"y":29},
        {"g":"Low dose","x":1.8,"y":28.3},{"g":"Low dose","x":2.03,"y":26.5},{"g":"Low dose","x":1.91,"y":19.8},{"g":"Low dose","x":1.91,"y":13.4},{"g":"Low dose","x":1.95,"y":3.7},
        {"g":"High dose","x":2.97,"y":22.7},{"g":"High dose","x":2.85,"y":16},{"g":"High dose","x":3.1,"y":15.5},{"g":"High dose","x":2.97,"y":10.4},{"g":"High dose","x":2.97,"y":2.4},
        {"g":"No bacteria","x":3.8,"y":58},{"g":"No bacteria","x":4.1,"y":58},{"g":"No bacteria","x":3.7,"y":52},{"g":"No bacteria","x":3.95,"y":52},{"g":"No bacteria","x":4.1,"y":48},{"g":"No bacteria","x":3.95,"y":39.3},
        {"g":"High dose","x":5.0,"y":17.1},{"g":"High dose","x":5.16,"y":1.9},{"g":"High dose","x":4.86,"y":0.5},{"g":"High dose","x":5.0,"y":0.5},{"g":"High dose","x":5.2,"y":0.5}]},
       "mark":{"type":"point","stroke":"black","strokeWidth":0.8,"opacity":1},
       "encoding":{"shape":{"field":"g","type":"nominal","scale":{"domain":["No bacteria","Low dose","High dose"],"range":["circle","square","square"]},"legend":null},
        "fill":{"field":"g","type":"nominal","scale":{"domain":["No bacteria","Low dose","High dose"],"range":["black","white","black"]},"legend":null},
        "size":{"field":"g","type":"ordinal","scale":{"domain":["No bacteria","Low dose","High dose"],"range":[16,28,28]},"legend":null}}},
      {"data":{"values":[{"x":1.0,"y":36.4},{"x":1.91,"y":17.4},{"x":2.97,"y":13.4},{"x":5.0,"y":0.5}]},"mark":{"type":"rule","xOffset":-8,"x2Offset":8,"strokeWidth":1.2},"encoding":{"x2":{"field":"x"}}},
      {"data":{"values":[{"x":3.95,"y":52}]},"mark":{"type":"rule","xOffset":-10,"x2Offset":10,"strokeWidth":1.5,"strokeDash":[1.5,2]},"encoding":{"x2":{"field":"x"}}},
      {"data":{"values":[{"x":1.03,"x2":2.34,"y":74.9,"y2":74.9},{"x":1.03,"x2":1.03,"y":74.9,"y2":66},{"x":2.34,"x2":2.34,"y":74.9,"y2":44.7},{"x":1.45,"x2":3.14,"y":44.7,"y2":44.7},{"x":3.79,"x2":4.99,"y":84,"y2":84},{"x":3.79,"x2":3.79,"y":84,"y2":72},{"x":4.99,"x2":4.99,"y":84,"y2":19.8},{"x":0.6,"x2":3.25,"y":-29,"y2":-29},{"x":3.56,"x2":5.38,"y":-29,"y2":-29}]},"mark":{"type":"rule","strokeWidth":1.5},"encoding":{"x2":{"field":"x2"},"y2":{"field":"y2"}}},
      {"data":{"values":[{"x":1.71,"y":66}]},"mark":{"type":"text","fontSize":16,"fontWeight":"bold","dy":4},"encoding":{"text":{"value":"*"}}},
      {"data":{"values":[{"x":4.36,"y":73}]},"mark":{"type":"text","fontSize":11,"fontWeight":"bold"},"encoding":{"text":{"value":"#"}}},
      {"data":{"values":[{"x":1.86,"y":-37.8,"t":"Day7"},{"x":4.53,"y":-37.8,"t":"Day28"}]},"mark":{"type":"text","fontSize":8},"encoding":{"text":{"field":"t"}}},
      {"data":{"values":[{"x":3.13,"y":109.4,"a":"S. aureus","b":"-Xen36"}]},"mark":{"type":"text","fontSize":12.5,"fontStyle":"italic","align":"right","baseline":"alphabetic"},"encoding":{"text":{"field":"a"}}},
      {"data":{"values":[{"x":3.13,"y":109.4,"a":"S. aureus","b":"-Xen36"}]},"mark":{"type":"text","fontSize":12.5,"align":"left","baseline":"alphabetic"},"encoding":{"text":{"field":"b"}}},
      {"data":{"values":[{"x":-1.49,"y":123,"t":"I"}]},"mark":{"type":"text","fontSize":10,"fontWeight":"bold","align":"left"},"encoding":{"text":{"field":"t"}}}
     ]},
     {"width":159,"height":125,
      "encoding":{
       "x":{"field":"x","type":"quantitative","scale":{"domain":[0.019,7.7],"nice":false,"zero":false},"axis":{"values":[1,2,3,4,5],"labelFontSize":6,"labelLineHeight":6.5,"labelExpr":"datum.value < 1.5 ? ['No','bacteria'] : datum.value < 2.5 ? ['High','dose'] : datum.value < 3.5 ? ['Over','night'] : datum.value < 4.5 ? ['No','bacteria'] : ['Over','night']"}},
       "y":{"field":"y","type":"quantitative","scale":{"domain":[0,102.7],"nice":false},"axis":{"values":[0,20,40,60,80,100],"labelFontSize":8,"title":"Bone to implant contact (%)","titleFontSize":10,"titlePadding":1,"titleY":55}}},
      "layer":[
       {"data":{"values":[{"x":0.019,"x2":0.019,"y":0,"y2":100},{"x":0.019,"x2":5.19,"y":0,"y2":0}]},"mark":{"type":"rule","strokeWidth":1.2},"encoding":{"x2":{"field":"x2"},"y2":{"field":"y2"}}},
       {"data":{"values":[{"g":"No bacteria","x":1.02,"y":68},{"g":"No bacteria","x":1.0,"y":49.6},{"g":"No bacteria","x":1.0,"y":43.8},{"g":"No bacteria","x":1.0,"y":35},
         {"g":"High dose","x":1.99,"y":23.3},{"g":"High dose","x":2.16,"y":15.3},{"g":"High dose","x":1.84,"y":11},
         {"g":"Over night","x":2.84,"y":8.2},{"g":"Over night","x":3.08,"y":8.5},{"g":"Over night","x":2.92,"y":5.7},{"g":"Over night","x":2.72,"y":7.1},
         {"g":"No bacteria","x":3.97,"y":59.2},{"g":"No bacteria","x":3.92,"y":53.7},{"g":"No bacteria","x":4.13,"y":53.7},{"g":"No bacteria","x":3.92,"y":31.5},
         {"g":"Over night","x":4.93,"y":11.2},{"g":"Over night","x":4.45,"y":4.9},{"g":"Over night","x":4.75,"y":3.8},{"g":"Over night","x":4.93,"y":2.2},{"g":"Over night","x":5.09,"y":1.4},{"g":"Over night","x":5.17,"y":2.2}]},
        "mark":{"type":"point","stroke":"black","strokeWidth":0.8,"opacity":1},
        "encoding":{"shape":{"field":"g","type":"nominal","scale":{"domain":["No bacteria","High dose","Over night"],"range":["circle","diamond","diamond"]},"legend":null},
         "fill":{"field":"g","type":"nominal","scale":{"domain":["No bacteria","High dose","Over night"],"range":["black","black","black"]},"legend":null},
         "size":{"field":"g","type":"ordinal","scale":{"domain":["No bacteria","High dose","Over night"],"range":[14,20,20]},"legend":null}}},
       {"data":{"values":[{"x":1.0,"y":48.8},{"x":2.0,"y":15.9},{"x":2.9,"y":7.7}]},"mark":{"type":"rule","xOffset":-8,"x2Offset":8,"strokeWidth":1.2},"encoding":{"x2":{"field":"x"}}},
       {"data":{"values":[{"x":3.95,"y":54.2},{"x":4.75,"y":3.6}]},"mark":{"type":"rule","xOffset":-8,"x2Offset":8,"strokeWidth":1.5,"strokeDash":[1.5,2]},"encoding":{"x2":{"field":"x"}}},
       {"data":{"values":[{"x":1.07,"x2":2.47,"y":82.2,"y2":82.2},{"x":1.07,"x2":1.07,"y":82.2,"y2":69.3},{"x":2.47,"x2":2.47,"y":82.2,"y2":37.8},{"x":1.92,"x2":3.32,"y":37.8,"y2":37.8},{"x":3.92,"x2":4.98,"y":84.4,"y2":84.4},{"x":3.92,"x2":3.92,"y":84.4,"y2":69.3},{"x":4.98,"x2":4.98,"y":84.4,"y2":41},{"x":0.58,"x2":3.32,"y":-27.9,"y2":-27.9},{"x":3.64,"x2":5.2,"y":-27.9,"y2":-27.9}]},"mark":{"type":"rule","strokeWidth":1.5},"encoding":{"x2":{"field":"x2"},"y2":{"field":"y2"}}},
       {"data":{"values":[{"x":1.82,"y":70}]},"mark":{"type":"text","fontSize":16,"fontWeight":"bold","dy":4},"encoding":{"text":{"value":"*"}}},
       {"data":{"values":[{"x":4.37,"y":72}]},"mark":{"type":"text","fontSize":11,"fontWeight":"bold"},"encoding":{"text":{"value":"#"}}},
       {"data":{"values":[{"x":1.92,"y":-37.5,"t":"Day7"},{"x":4.33,"y":-37.5,"t":"Day15"}]},"mark":{"type":"text","fontSize":8},"encoding":{"text":{"field":"t"}}},
       {"data":{"values":[{"x":3.55,"y":112.3,"a":"Acinetobacter","b":"strain M2"}]},"mark":{"type":"text","fontSize":12.5,"fontStyle":"italic","align":"right","baseline":"alphabetic"},"encoding":{"text":{"field":"a"}}},
       {"data":{"values":[{"x":3.55,"y":112.3,"a":"Acinetobacter","b":"strain M2"}]},"mark":{"type":"text","fontSize":12.5,"align":"left","baseline":"alphabetic","dx":3.5},"encoding":{"text":{"field":"b"}}},
       {"data":{"values":[{"x":-1.78,"y":123,"t":"J"}]},"mark":{"type":"text","fontSize":10,"fontWeight":"bold","align":"left"},"encoding":{"text":{"field":"t"}}}
      ]},
     {"width":109,"height":125,
      "encoding":{
       "x":{"field":"x","type":"quantitative","scale":{"domain":[0.151,5.293],"nice":false,"zero":false},"axis":{"values":[1,2,3,4,5],"labelFontSize":6,"labelLineHeight":6.5,"labelExpr":"datum.value < 1.5 ? ['No','bacteria'] : datum.value < 2.5 ? ['High','dose'] : datum.value < 3.5 ? ['Over','night'] : datum.value < 4.5 ? ['No','bacteria'] : ['Over','night']"}},
       "y":{"field":"y","type":"quantitative","scale":{"domain":[0,106.2],"nice":false},"axis":{"values":[0,20,40,60,80,100],"labelFontSize":8,"title":"Peri-implant bone (%)","titleFontSize":8.5,"titlePadding":2,"titleY":49}}},
      "layer":[
       {"data":{"values":[{"x":0.151,"x2":0.151,"y":0,"y2":100},{"x":0.151,"x2":5.293,"y":0,"y2":0}]},"mark":{"type":"rule","strokeWidth":1.2},"encoding":{"x2":{"field":"x2"},"y2":{"field":"y2"}}},
       {"data":{"values":[{"g":"No bacteria","x":0.86,"y":56},{"g":"No bacteria","x":0.86,"y":45.8},{"g":"No bacteria","x":0.75,"y":31.7},{"g":"No bacteria","x":0.98,"y":34},
         {"g":"High dose","x":1.46,"y":23.3},{"g":"High dose","x":1.69,"y":21.9},{"g":"High dose","x":1.22,"y":17.1},
         {"g":"Over night","x":2.71,"y":10.1},{"g":"Over night","x":2.9,"y":12},{"g":"Over night","x":2.56,"y":8.7},{"g":"Over night","x":2.95,"y":8.7},
         {"g":"No bacteria","x":3.74,"y":50},{"g":"No bacteria","x":3.78,"y":32.6},{"g":"No bacteria","x":3.7,"y":26.4},
         {"g":"Over night","x":4.6,"y":12.9},{"g":"Over night","x":5.0,"y":7.3},{"g":"Over night","x":5.23,"y":8.7},{"g":"Over night","x":4.6,"y":1.7}]},
        "mark":{"type":"point","stroke":"black","strokeWidth":0.8,"opacity":1},
        "encoding":{"shape":{"field":"g","type":"nominal","scale":{"domain":["No bacteria","High dose","Over night"],"range":["circle","diamond","diamond"]},"legend":null},
         "fill":{"field":"g","type":"nominal","scale":{"domain":["No bacteria","High dose","Over night"],"range":["black","black","black"]},"legend":null},
         "size":{"field":"g","type":"ordinal","scale":{"domain":["No bacteria","High dose","Over night"],"range":[14,20,20]},"legend":null}}},
       {"data":{"values":[{"x":0.88,"y":43.8},{"x":1.5,"y":20},{"x":2.75,"y":9.3}]},"mark":{"type":"rule","xOffset":-8,"x2Offset":8,"strokeWidth":1.2},"encoding":{"x2":{"field":"x"}}},
       {"data":{"values":[{"x":3.75,"y":32.6},{"x":4.75,"y":7.3}]},"mark":{"type":"rule","xOffset":-8,"x2Offset":8,"strokeWidth":1.5,"strokeDash":[1.5,2]},"encoding":{"x2":{"field":"x"}}},
       {"data":{"values":[{"x":0.8,"x2":2.24,"y":82.3,"y2":82.3},{"x":0.8,"x2":0.8,"y":82.3,"y2":74.7},{"x":2.24,"x2":2.24,"y":82.3,"y2":37.4},{"x":1.46,"x2":3.45,"y":37.4,"y2":37.4},{"x":3.66,"x2":4.63,"y":85.4,"y2":85.4},{"x":3.66,"x2":3.66,"y":85.4,"y2":71},{"x":4.63,"x2":4.63,"y":85.4,"y2":40},{"x":0.43,"x2":3.1,"y":-28.9,"y2":-28.9},{"x":3.43,"x2":5.07,"y":-28.9,"y2":-28.9}]},"mark":{"type":"rule","strokeWidth":1.5},"encoding":{"x2":{"field":"x2"},"y2":{"field":"y2"}}},
       {"data":{"values":[{"x":1.57,"y":71}]},"mark":{"type":"text","fontSize":16,"fontWeight":"bold","dy":4},"encoding":{"text":{"value":"*"}}},
       {"data":{"values":[{"x":4.13,"y":74}]},"mark":{"type":"text","fontSize":11,"fontWeight":"bold"},"encoding":{"text":{"value":"#"}}},
       {"data":{"values":[{"x":1.74,"y":-37.9,"t":"Day7"},{"x":4.36,"y":-37.9,"t":"Day15"}]},"mark":{"type":"text","fontSize":8},"encoding":{"text":{"field":"t"}}},
       {"data":{"values":[{"x":3.01,"y":116.1,"a":"Acinetobacter","b":"strain M2"}]},"mark":{"type":"text","fontSize":12.5,"fontStyle":"italic","align":"right","baseline":"alphabetic"},"encoding":{"text":{"field":"a"}}},
       {"data":{"values":[{"x":3.01,"y":116.1,"a":"Acinetobacter","b":"strain M2"}]},"mark":{"type":"text","fontSize":12.5,"align":"left","baseline":"alphabetic","dx":3.5},"encoding":{"text":{"field":"b"}}},
       {"data":{"values":[{"x":-1.18,"y":130.6,"t":"K"}]},"mark":{"type":"text","fontSize":10,"fontWeight":"bold","align":"left"},"encoding":{"text":{"field":"t"}}}
      ]}
 ],"spacing":10,"bounds":"flush","resolve":{"scale":{"shape":"independent","fill":"independent","size":"independent"}}}
],"spacing":15,"resolve":{"scale":{"shape":"independent","fill":"independent","size":"independent"}}}
]}
